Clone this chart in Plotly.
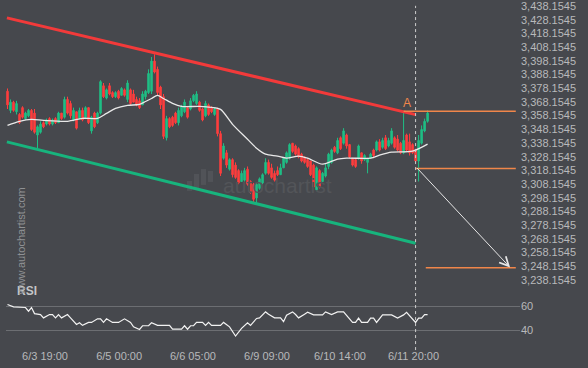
import plotly.graph_objects as go

# ---------------- data ----------------
open_ = [3376,3362,3368,3361,3359,3364,3356,3358,3362,3360,3344,3346,3353,3352,3356,3352,3356,3353,3360,3357,
         3370,3367,3355,3361,3356,3362,3357,3364,3347,3360,3353,3360,3380,3371,3380,3375,3372,3376,3373,3377,
         3370,3377,3374,3370,3369,3366,3372,3375,3376,3398,3392,3379,3372,3342,3356,3357,3360,3353,3358,3361,
         3364,3363,3369,3367,3368,3363,3358,3366,3364,3359,3363,3345,3327,3331,3319,3326,3322,3318,3310,3311,
         3319,3310,3308,3298,3305,3309,3316,3324,3320,3316,3318,3315,3320,3324,3327,3338,3336,3334,3330,3328,
         3326,3325,3322,3304,3318,3310,3314,3321,3324,3335,3331,3342,3338,3344,3337,3327,3326,3327,3331,3326,
         3324,3327,3333,3333,3339,3335,3342,3336,3338,3342,3341,3338,3331,3344,3339,3337,3333,3325,3338,3347,
         3354]
high = [3378,3370,3369,3369,3360,3365,3361,3363,3363,3363,3351,3354,3354,3356,3357,3356,3357,3361,3360,3372,
        3372,3369,3364,3361,3364,3364,3365,3364,3358,3361,3361,3384,3382,3378,3382,3376,3376,3377,3379,3378,
        3384,3378,3377,3372,3371,3376,3377,3392,3401,3403,3394,3380,3374,3358,3357,3358,3361,3364,3366,3370,
        3365,3371,3374,3376,3369,3364,3369,3367,3365,3364,3364,3347,3338,3333,3327,3327,3324,3319,3318,3320,
        3321,3311,3309,3309,3313,3316,3327,3326,3323,3318,3321,3323,3328,3332,3338,3338,3337,3335,3331,3328,
        3327,3325,3323,3321,3319,3317,3323,3331,3334,3336,3342,3343,3349,3345,3337,3327,3326,3337,3331,3330,
        3327,3331,3334,3340,3341,3342,3344,3342,3349,3343,3344,3339,3361,3345,3345,3338,3334,3344,3351,3356,
        3362]
low = [3363,3360,3361,3359,3352,3356,3355,3357,3347,3345,3334,3345,3349,3351,3351,3351,3352,3353,3355,3356,
       3359,3356,3354,3348,3356,3354,3357,3352,3345,3349,3352,3359,3371,3370,3373,3371,3371,3370,3373,3372,
       3368,3366,3368,3365,3363,3366,3370,3374,3374,3389,3373,3363,3341,3340,3349,3350,3352,3351,3357,3360,
       3356,3362,3368,3366,3361,3354,3357,3358,3360,3358,3343,3314,3326,3320,3318,3313,3312,3308,3310,3310,
       3307,3301,3295,3294,3304,3308,3315,3315,3312,3310,3314,3315,3320,3323,3326,3331,3329,3327,3324,3323,
       3320,3314,3305,3303,3305,3310,3313,3319,3323,3331,3330,3333,3337,3334,3327,3321,3320,3326,3323,3325,
       3316,3327,3327,3332,3332,3334,3333,3335,3337,3334,3332,3330,3330,3332,3329,3330,3324,3310,3337,3346,
       3353]
close = [3366,3368,3362,3367,3353,3357,3360,3362,3348,3346,3350,3352,3350,3355,3352,3355,3353,3360,3356,3370,
         3360,3358,3362,3349,3362,3355,3364,3353,3357,3350,3360,3383,3372,3377,3374,3372,3375,3371,3378,3373,
         3382,3367,3368,3366,3364,3374,3376,3389,3398,3390,3375,3366,3343,3356,3350,3351,3353,3362,3365,3368,
         3357,3369,3373,3374,3362,3355,3367,3359,3361,3363,3345,3316,3336,3322,3326,3315,3313,3309,3316,3318,
         3308,3302,3297,3308,3312,3315,3324,3316,3313,3311,3315,3320,3327,3331,3337,3332,3330,3328,3325,3324,
         3321,3315,3306,3320,3306,3316,3320,3330,3333,3332,3340,3334,3347,3336,3328,3322,3321,3336,3325,3329,
         3327,3330,3329,3339,3333,3340,3334,3340,3347,3335,3333,3331,3340,3333,3331,3331,3325,3340,3348,3354,
         3360]
bars = list(range(len(close)))

ma_x = [0,4,8,12,20,25,30,33,36,40,44,46,48,50,52,55,58,64,68,71,75,80,83,86,90,93,97,100,105,110,113,121,124,128,135,140]
ma_y = [3351.1,3354.0,3355.4,3354.7,3354.0,3356.2,3356.2,3359.8,3363.4,3365.6,3366.4,3368.5,3370.7,3372.9,3370.7,
        3367.1,3364.9,3364.9,3364.2,3362.7,3351.8,3340.9,3334.4,3330.0,3328.6,3327.1,3328.6,3327.1,3322.7,3326.4,
        3327.1,3327.1,3329.3,3331.5,3332.2,3337.3]

rsi_x = [0,2,6,7,8,9,11,12,14,15,16,17,18,20,21,23,24,25,27,28,30,31,32,33,35,37,39,41,42,44,45,47,48,50,54,55,
         58,59,60,61,62,63,65,66,67,68,71,72,74,76,78,80,81,83,84,86,87,89,91,92,93,95,96,97,99,100,102,105,106,
         108,110,112,115,116,117,118,120,121,122,123,125,128,130,132,133,136,137,138,139,140]
rsi_y = [61.7,59.7,59.2,56.1,59.2,54.1,53.3,50.5,53.3,53.3,50.5,53.3,50.5,53.3,50.5,45.0,46.4,44.2,46.7,46.7,
         49.7,49.7,46.7,49.7,46.7,46.7,49.7,46.7,43.0,40.8,43.9,43.9,46.4,44.2,44.2,41.0,41.0,43.9,41.0,43.9,
         43.9,46.7,46.7,44.2,46.7,44.2,44.2,46.7,43.0,35.3,41.7,46.4,44.2,50.0,50.5,55.5,53.6,50.5,50.5,47.3,
         52.8,55.5,53.3,50.5,53.6,55.2,53.0,53.0,55.5,53.3,55.5,55.5,46.7,46.7,50.3,46.7,46.7,50.3,50.3,46.7,
         53.0,53.0,50.3,53.0,55.2,46.7,50.3,50.3,53.3,53.3]

# channel (resistance / support) end points
chan_x = [-0.2, 136]
resist_y = [3429.6, 3358.9]
support_y = [3339.0, 3264.9]

# pattern levels
level_vals = [3361.3, 3319.6, 3247.0]
level_start = [132, 136, 139.4]
level_end = 169.4
breakout_bar = 136
target_bar = 167.5
arrow_start_y = 3321.0
arrow_end_y = 3247.2

tick_pos = [12.5, 37.2, 61.8, 86.5, 110.8, 135.3]
tick_text = ["6/3 19:00", "6/5 00:00", "6/6 05:00", "6/9 09:00", "6/10 14:00", "6/11 20:00"]

# ---------------- style ----------------
BG = "#46484d"
GREEN = "#1fbf85"
RED = "#ff3e3e"
ORANGE = "#f0864a"
LABEL = "#b8b9bb"
FONT = "Liberation Sans, Arial, sans-serif"

fig = go.Figure()

fig.add_trace(go.Scatter(x=chan_x, y=resist_y, mode="lines",
                         line=dict(color="#f23a3a", width=3), hoverinfo="skip"))
fig.add_trace(go.Scatter(x=chan_x, y=support_y, mode="lines",
                         line=dict(color="#17b47d", width=3), hoverinfo="skip"))

fig.add_trace(go.Candlestick(
    x=bars, open=open_, high=high, low=low, close=close,
    increasing=dict(line=dict(color=GREEN, width=1), fillcolor=GREEN),
    decreasing=dict(line=dict(color=RED, width=1), fillcolor=RED),
    whiskerwidth=0, xaxis="x", yaxis="y"))

fig.add_trace(go.Scatter(x=ma_x, y=ma_y, mode="lines",
                         line=dict(color="#e8e8e8", width=1.3, shape="spline", smoothing=0.8),
                         hoverinfo="skip"))

fig.add_trace(go.Scatter(x=rsi_x, y=rsi_y, mode="lines", xaxis="x", yaxis="y2",
                         line=dict(color="#f2f2f2", width=1.2), hoverinfo="skip"))

shapes = []
for lv, xs in zip(level_vals, level_start):
    shapes.append(dict(type="line", xref="x", yref="y", x0=xs, x1=level_end, y0=lv, y1=lv,
                       line=dict(color=ORANGE, width=1.5)))
shapes.append(dict(type="line", xref="x", yref="paper", x0=breakout_bar, x1=breakout_bar,
                   y0=-0.006, y1=0.989, line=dict(color="#cfcfcf", width=1, dash="3px,3px")))

# faint logo bars of the watermark
logo = [(187, 192, 180, 190), (194, 199, 173, 188), (201, 206, 168, 184), (208, 213, 170, 181)]
for x0, x1, y0, y1 in logo:
    shapes.append(dict(type="rect", xref="paper", yref="paper",
                       x0=(x0 - 6) / 514, x1=(x1 - 6) / 514, y0=1 - y1 / 348, y1=1 - y0 / 348,
                       line=dict(width=0), fillcolor="#515358", layer="below"))

annotations = [
    dict(x=target_bar, y=arrow_end_y, ax=breakout_bar, ay=arrow_start_y, xref="x", yref="y",
         axref="x", ayref="y", text="", showarrow=True, arrowhead=5, arrowsize=1.8,
         arrowwidth=1, arrowcolor="#e6e6e6"),
    dict(x=133, y=level_vals[0], xref="x", yref="y", text="A", showarrow=False,
         yanchor="bottom", yshift=-1, font=dict(color=ORANGE, size=12, family=FONT)),
    dict(x=(15 - 6) / 514, y=1 - 291 / 348, xref="paper", yref="paper", text="<b>RSI</b>", showarrow=False,
         xanchor="left", yanchor="middle", font=dict(color="#c4c5c7", size=12, family=FONT)),
    dict(x=(13 - 6) / 514, y=1 - 297 / 348, xref="paper", yref="paper", text="www.autochartist.com",
         showarrow=False, textangle=-90, font=dict(color="#8f9194", size=11, family=FONT)),
    dict(x=(277 - 6) / 514, y=1 - 185 / 348, xref="paper", yref="paper", text="autochartist",
         showarrow=False, font=dict(color="#535559", size=21, family=FONT)),
]

fig.update_layout(
    width=588, height=368,
    paper_bgcolor=BG, plot_bgcolor=BG,
    margin=dict(l=6, r=68, t=0, b=20),
    showlegend=False,
    font=dict(family=FONT, color=LABEL, size=11),
    xaxis=dict(range=[-0.5, 170.8], anchor="y2", tickvals=tick_pos, ticktext=tick_text,
               showgrid=False, zeroline=False, showline=False, ticks="",
               tickfont=dict(color=LABEL, size=11, family=FONT),
               rangeslider=dict(visible=False)),
    yaxis=dict(domain=[0.1667, 1], range=[3230.5, 3441.2], side="right", anchor="x",
               tick0=3238.1545, dtick=10, tickformat=",.4f", showgrid=False, zeroline=False,
               showline=False, ticks="", ticklabeloverflow="allow",
               tickfont=dict(color=LABEL, size=11, family=FONT)),
    yaxis2=dict(domain=[0, 0.1667], range=[25.25, 73.6], side="right", anchor="x",
                tickvals=[40, 60], showgrid=True, gridcolor="#6c6e72", gridwidth=1,
                zeroline=False, showline=False, ticks="",
                tickfont=dict(color=LABEL, size=11, family=FONT)),
    shapes=shapes,
    annotations=annotations,
)

fig.write_html("out.html", config=dict(displayModeBar=False),
               post_script="document.body.style.margin='0';document.body.style.padding='0';"
                           "document.body.style.background='" + BG + "';")
